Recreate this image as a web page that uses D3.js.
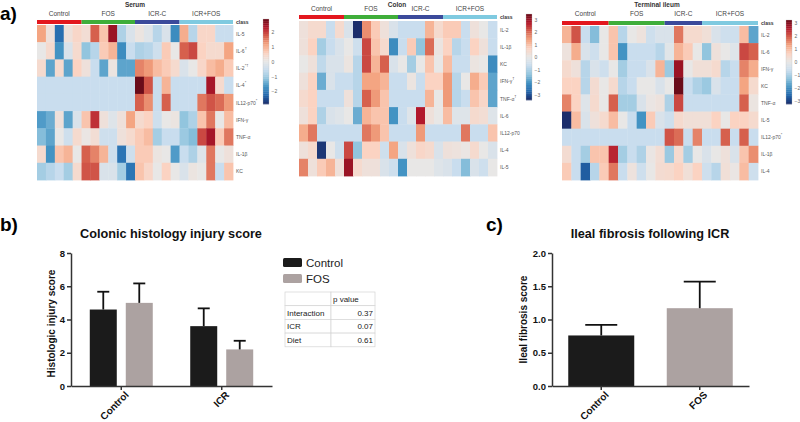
<!DOCTYPE html>
<html><head><meta charset="utf-8">
<script src="https://cdn.jsdelivr.net/npm/d3@7"></script>
<style>body{margin:0;background:#fff} svg{display:block} text{font-family:Arial,"Liberation Sans",sans-serif}</style>
</head><body>
<svg id="chart" width="800" height="422"></svg>
<script>
// ---------------- DATA ----------------
const groups = ["Control", "FOS", "ICR-C", "ICR+FOS"];
const serumGroupSizes = [5, 6, 5, 6];
const colonGroupSizes = [5, 6, 5, 6];
const ileumGroupSizes = [5, 6, 4, 6];

const serumRows  = ["IL-5", "IL-6", "IL-2", "IL-4", "IL12-p70", "IFN-γ", "TNF-α", "IL-1β", "KC"];
const serumMarks = ["", "†", "*†", "*", "*", "", "", "", ""];
const serumValues = [
  [1.2,0.2,-2.3,0.2,0.5, 0.3,1.8,0.8,2.6,-0.9,-0.3, 0.1,-0.2,-0.8,-0.3,-1.9, 1.1,-0.8,0.5,0.5,-0.6,-0.6],
  [0,0.4,-1.8,-0.3,0.4, -1.2,-0.8,0.7,1.0,-1.9,-0.6, -0.9,-0.8,-0.5,0.7,0, 1.8,2.0,0.6,0.4,0.4,1.2],
  [0.4,-1.6,0.4,-1.6,0.6, 0.2,-0.6,-1.6,0.1,-1.6,-1.6, 1.5,1.3,0.9,0.7,0.4, -0.3,0,0.5,0.9,1.1,0.7],
  [-0.6,-0.6,-0.6,-0.6,-0.6, -0.6,-0.6,-0.6,-0.6,-0.6,-0.6, 3.0,1.9,-0.6,1.0,-0.6, -0.6,-0.6,-0.6,2.5,0.4,-0.6],
  [-0.6,-0.6,-0.6,-0.6,-0.6, -0.6,-0.6,-0.6,-0.6,-0.6,-0.6, 1.8,1.4,-0.6,1.8,-0.6, -0.6,-0.6,1.6,1.9,1.7,1.3],
  [-1.7,-1.5,0.2,-1.6,-0.3, 0.8,2.2,0.2,-0.2,0.2,1.2, 0.4,0.6,-0.5,0,0.1, -1.2,-0.9,0.8,1.6,0,0.9],
  [-1.3,-1.6,0,-0.5,0.4, 0.05,0.3,-0.5,-0.5,0.2,0.4, 0.7,0.9,-1.0,-0.6,-0.6, -1.1,-1.3,2.0,2.5,0.7,1.6],
  [0.4,-1.8,0.8,1.0,0, 1.8,1.5,1.0,-0.5,-2.2,-0.5, 0.7,0.7,0.1,0,-1.7, -0.6,-0.9,-0.2,1.6,0,0.2],
  [-1.0,-0.8,-0.6,-1.0,0.4, 1.9,1.9,-0.3,-0.3,-1.0,-2.2, 0.8,0.5,0,0.6,0, -0.3,0.1,0,1.6,-0.6,0.8]
];

const colonRows  = ["IL-2", "IL-1β", "KC", "IFN-γ", "TNF-α", "IL-6", "IL12-p70", "IL-4", "IL-5"];
const colonMarks = ["", "", "", "†", "†", "", "", "", ""];
const colonValues = [
  [0.2,0.4,0.4,-0.6,0.4, -0.3,-3.2,1.4,0.7,0.2,-0.3, -0.6,-0.6,-0.6,1.0,0.4, 0.7,0.7,-0.6,0.2,0,-0.6],
  [0.2,0.6,-1.0,-0.6,-0.3, 0,-0.5,2.0,0.8,0.4,-1.9, -0.6,0.7,-1.2,1.7,0.1, 0.6,-0.8,-0.6,0.6,0.2,-0.6],
  [0,0.2,-0.7,-0.3,-0.3, 0.1,-0.8,2.0,1.0,1.8,-0.3, 0,-1.0,0,0.8,0, 0.9,-0.6,-0.6,0.1,0,-1.9],
  [0.2,0.6,-1.5,-0.3,-0.6, -0.6,-0.8,1.2,1.2,1.0,-0.6, -0.6,0.1,-0.6,0.6,0.6, 1.3,-0.8,0,1.1,0.7,-1.6],
  [0.4,0.6,-0.6,-0.6,-0.6, 0.2,-0.8,1.8,1.3,0.8,-0.6, -0.6,-0.6,-0.6,1.0,0, 1.3,-0.8,-0.6,0.8,0.5,-1.6],
  [0.2,0.6,-0.9,-0.3,-0.2, 0,-1.5,1.0,0.8,0.8,-1.8, -0.6,-0.2,2.4,0.2,0, 0.9,-0.2,-0.2,0.4,0.3,-0.2],
  [1.1,1.6,-0.6,-0.6,-0.6, -0.6,-0.6,1.6,1.3,0.8,-0.6, -0.6,-0.6,1.3,-0.6,-0.6, -0.6,-0.6,1.6,-0.6,-0.6,0.8],
  [0.2,0.4,-2.9,0,-0.5, 2.0,-1.2,0.6,0.6,-0.5,1.2, -0.3,0.2,0.5,0.4,-0.3, 0.2,0.15,0.05,0.4,0,-0.3],
  [1.5,0.2,0.7,1.0,0.2, 2.6,0.4,0.2,0.2,-0.3,-0.5, -1.8,0,0,0,-0.2, -0.3,-0.6,-1.3,-0.3,-0.5,0]
];

const ileumRows  = ["IL-2", "IL-6", "IFN-γ", "KC", "TNF-α", "IL-5", "IL12-p70", "IL-1β", "IL-4"];
const ileumMarks = ["", "", "", "", "", "", "*", "", ""];
const ileumValues = [
  [1.0,1.9,-0.6,-1.3,0, 0.8,-0.8,0,0.15,-0.5,-0.3, -0.3,1.6,0.4,0.4, 0.25,-0.3,-0.5,-0.5,0.9,-1.6],
  [0.15,1.1,-0.3,-0.5,0, 0.8,-1.8,-0.6,-0.6,-0.6,-0.8, -0.15,1.0,0.7,0, -1.2,0.2,0,-0.2,2.0,1.8],
  [0.4,0.2,-0.8,-0.3,-0.5, 0,-1.0,-0.6,-0.6,-0.3,1.0, -1.1,2.6,0,0.25, 0.25,0.4,-0.8,-0.6,1.5,1.1],
  [0.6,0.6,-0.8,0.35,0, 0.4,-0.8,-0.6,0,0,-0.3, 0,3.0,-0.6,-0.9, -1.1,-0.3,-0.6,-0.6,1.2,0.4],
  [1.5,0.6,-0.2,0.4,0, 1.8,-1.0,-1.0,-0.3,0.05,0.15, -0.9,2.0,-0.6,-0.6, -0.6,-0.6,-0.6,-0.6,1.8,0.1],
  [-3.2,0.9,-0.3,0.2,0.4, 0.9,0,-0.6,-1.8,0.7,-0.3, -0.5,0.4,0.25,0.25, 0.25,0.6,0,0.6,0.6,0.4],
  [-0.6,-0.6,-0.6,-0.6,-0.6, -0.6,-0.6,-0.6,-0.6,-0.6,-0.6, 1.9,1.7,-0.6,1.5, -0.6,-0.6,1.8,-0.6,1.8,-0.6],
  [0.35,-0.6,-1.0,0.8,0.8, 2.3,-1.0,-0.6,-0.9,0.05,0.3, -1.1,0.4,-1.0,0, -0.3,0,0.2,-0.3,0.8,1.4],
  [0.7,-0.6,-2.5,-0.8,0.7, 1.6,-0.6,0.15,-0.5,0,0.35, 0.4,0.6,0.25,0.6, -0.5,-0.8,0.25,0.05,0.9,-0.5]
];

const serumScaleTicks = [-2, -1, 0, 1, 2];
const colonScaleTicks = [-3, -2, -1, 0, 1, 2, 3];
const ileumScaleTicks = [-3, -2, -1, 0, 1, 2, 3];

// panel b
const histoGroups = ["Control", "ICR"];
const histoSeries = ["Control", "FOS"];
const histoControlMeans = [4.6, 3.6];
const histoFosMeans = [5.0, 2.2];
const histoControlSem = [1.07, 1.07];
const histoFosSem = [1.17, 0.52];
const histoTicks = [0, 2, 4, 6, 8];
const pLabels = ["Interaction", "ICR", "Diet"];
const pValues = ["0.37", "0.07", "0.61"];

// panel c
const fibrosisCats = ["Control", "FOS"];
const fibrosisMeans = [0.76, 1.17];
const fibrosisSem = [0.16, 0.40];
const fibrosisTicks = [0, 0.5, 1.0, 1.5, 2.0];

// ---------------- STYLE ----------------
const svg = d3.select("#chart");
const groupColors = ["#e3171e", "#3fae3a", "#3b4a9b", "#7fcae0"];
const seriesColors = ["#1b1b1b", "#aca2a1"];
const heatColor = d3.scaleLinear()
  .domain([-3, -2.4, -1.8, -1.2, -0.6, 0, 0.6, 1.2, 1.8, 2.4, 3])
  .range(["#1b2d6b", "#2166ac", "#4393c3", "#92c5de", "#c9ddee", "#e8e7e6",
          "#fbd3c2", "#f4a582", "#d6604d", "#b2182b", "#6a0c1a"])
  .clamp(true);

function drawHeatmap(cfg) {
  const g = svg.append("g");
  const nCols = d3.sum(cfg.sizes);
  const x = d3.scaleBand().domain(d3.range(nCols)).range([cfg.x0, cfg.x1]);
  const y = d3.scaleBand().domain(d3.range(cfg.rows.length)).range([cfg.y0, cfg.y1]);
  const cells = [];
  cfg.values.forEach((row, i) => row.forEach((v, j) => cells.push({i, j, v})));
  g.selectAll("rect.cell").data(cells).join("rect")
    .attr("x", d => x(d.j)).attr("y", d => y(d.i))
    .attr("width", x.bandwidth() + 0.4).attr("height", y.bandwidth() + 0.4)
    .attr("fill", d => heatColor(d.v));
  // class bar
  let start = 0;
  const gs = cfg.sizes.map((s, k) => { const o = {k, s0: start, s1: start + s - 1}; start += s; return o; });
  g.selectAll("rect.cls").data(gs).join("rect")
    .attr("x", d => x(d.s0)).attr("y", cfg.classY)
    .attr("width", d => x(d.s1) + x.bandwidth() - x(d.s0)).attr("height", 4)
    .attr("fill", d => groupColors[d.k]);
  g.selectAll("text.grp").data(gs).join("text")
    .attr("x", d => (x(d.s0) + x(d.s1) + x.bandwidth()) / 2)
    .attr("y", cfg.groupY).attr("text-anchor", "middle")
    .attr("font-size", 6.5).attr("fill", "#444").text(d => groups[d.k]);
  g.append("text").attr("x", cfg.titleX).attr("y", 7).attr("text-anchor", "middle")
    .attr("font-size", 6.5).attr("font-weight", "bold").attr("fill", "#333").text(cfg.title);
  g.append("text").attr("x", cfg.x1 + 3).attr("y", cfg.classY + 4).attr("font-size", 5)
    .attr("font-weight", "bold").attr("fill", "#333").text("class");
  const rl = g.selectAll("text.row").data(cfg.rows).join("text")
    .attr("x", cfg.x1 + 3).attr("y", (d, i) => y(i) + y.bandwidth() / 2 + 2)
    .attr("font-size", 5).attr("fill", "#555");
  rl.append("tspan").text(d => d);
  rl.append("tspan").attr("dy", -3).attr("font-size", 4).text((d, i) => cfg.marks[i]);
  // colorbar
  const cb = cfg.cbar;
  const cy = d3.scaleLinear().domain([cb.min, cb.max]).range([cb.y1, cb.y0]);
  const steps = d3.range(0, 40);
  const hStep = (cb.y1 - cb.y0) / 40;
  g.selectAll("rect.cb").data(steps).join("rect")
    .attr("x", cb.x).attr("y", d => cb.y0 + d * hStep).attr("width", 6).attr("height", hStep + 0.3)
    .attr("fill", d => heatColor(3 - 6 * (d + 0.5) / 40));
  g.append("rect").attr("x", cb.x).attr("y", cb.y0).attr("width", 6).attr("height", cb.y1 - cb.y0)
    .attr("fill", "none").attr("stroke", "#bbb").attr("stroke-width", 0.3);
  const ax = g.append("g").attr("transform", `translate(${cb.x + 6},0)`)
    .call(d3.axisRight(cy).tickValues(cb.ticks).tickFormat(d3.format("d")).tickSize(0).tickPadding(2.5));
  ax.select(".domain").remove();
  ax.selectAll("text").attr("font-size", 5).attr("fill", "#666").attr("font-family", "Arial");
}

drawHeatmap({title: "Serum", titleX: 135, rows: serumRows, marks: serumMarks, values: serumValues,
  sizes: serumGroupSizes, x0: 37, x1: 233, y0: 25, y1: 180, classY: 20, groupY: 16,
  cbar: {x: 263, y0: 19, y1: 104, min: -2.85, max: 2.85, ticks: serumScaleTicks}});
drawHeatmap({title: "Colon", titleX: 397, rows: colonRows, marks: colonMarks, values: colonValues,
  sizes: colonGroupSizes, x0: 299, x1: 497, y0: 21, y1: 176, classY: 15, groupY: 11,
  cbar: {x: 526, y0: 14, y1: 100, min: -3.44, max: 3.44, ticks: colonScaleTicks}});
drawHeatmap({title: "Terminal ileum", titleX: 657, rows: ileumRows, marks: ileumMarks, values: ileumValues,
  sizes: ileumGroupSizes, x0: 562, x1: 758, y0: 26, y1: 180, classY: 21, groupY: 16,
  cbar: {x: 786, y0: 20, y1: 104, min: -3.25, max: 3.25, ticks: ileumScaleTicks}});

// panel labels
svg.append("text").attr("x", 0).attr("y", 20).attr("font-size", 19).attr("font-weight", "bold").text("a)");
svg.append("text").attr("x", 0).attr("y", 231).attr("font-size", 19).attr("font-weight", "bold").text("b)");
svg.append("text").attr("x", 486).attr("y", 231).attr("font-size", 19).attr("font-weight", "bold").text("c)");

function styleAxis(a) {
  a.select(".domain").attr("stroke", "#333").attr("stroke-width", 1.5);
  a.selectAll(".tick line").attr("stroke", "#333").attr("stroke-width", 1.5);
  a.selectAll("text").attr("font-family", "Arial").attr("font-weight", "bold").attr("fill", "#111");
}

// ---------- panel b ----------
(function() {
  const left = 71, right = 272, top = 253, bottom = 386;
  const y = d3.scaleLinear().domain([0, 8]).range([bottom, top]);
  const x0 = d3.scaleBand().domain(histoGroups).range([left, right]).paddingInner(0.373).paddingOuter(0.187);
  const x1 = d3.scaleBand().domain(histoSeries).range([0, x0.bandwidth()]).paddingInner(0.25);
  const g = svg.append("g");
  const data = [];
  histoGroups.forEach((gr, i) => {
    data.push({gr, s: "Control", m: histoControlMeans[i], e: histoControlSem[i], c: 0});
    data.push({gr, s: "FOS", m: histoFosMeans[i], e: histoFosSem[i], c: 1});
  });
  g.selectAll("rect.bar").data(data).join("rect")
    .attr("x", d => x0(d.gr) + x1(d.s)).attr("y", d => y(d.m))
    .attr("width", x1.bandwidth()).attr("height", d => bottom - y(d.m))
    .attr("fill", d => seriesColors[d.c]);
  const eb = g.selectAll("g.err").data(data).join("g");
  eb.append("line").attr("x1", d => x0(d.gr) + x1(d.s) + x1.bandwidth() / 2)
    .attr("x2", d => x0(d.gr) + x1(d.s) + x1.bandwidth() / 2)
    .attr("y1", d => y(d.m)).attr("y2", d => y(d.m + d.e)).attr("stroke", "#111").attr("stroke-width", 1.8);
  eb.append("line").attr("x1", d => x0(d.gr) + x1(d.s) + x1.bandwidth() / 2 - 6)
    .attr("x2", d => x0(d.gr) + x1(d.s) + x1.bandwidth() / 2 + 6)
    .attr("y1", d => y(d.m + d.e)).attr("y2", d => y(d.m + d.e)).attr("stroke", "#111").attr("stroke-width", 1.8);
  const ya = g.append("g").attr("transform", `translate(${left},0)`)
    .call(d3.axisLeft(y).tickValues(histoTicks).tickSize(4).tickPadding(2).tickSizeOuter(0));
  styleAxis(ya); ya.selectAll("text").attr("font-size", 9.5);
  const xa = g.append("g").attr("transform", `translate(0,${bottom})`)
    .call(d3.axisBottom(x0).tickSize(4).tickSizeOuter(0));
  styleAxis(xa);
  xa.selectAll("text").attr("font-size", 10).attr("text-anchor", "end")
    .attr("transform", "rotate(-45)").attr("dx", "-0.1em").attr("dy", "0.55em");
  g.append("text").attr("transform", `translate(55,${(top + bottom) / 2 + 4}) rotate(-90)`)
    .attr("text-anchor", "middle").attr("font-size", 10).attr("font-weight", "bold").attr("fill", "#111")
    .text("Histologic injury score");
  g.append("text").attr("x", 171).attr("y", 238).attr("text-anchor", "middle")
    .attr("font-size", 12.7).attr("font-weight", "bold").attr("fill", "#111").text("Colonic histology injury score");
  // legend
  histoSeries.forEach((s, i) => {
    g.append("rect").attr("x", 283).attr("y", 258 + i * 16).attr("width", 19).attr("height", 9)
      .attr("rx", 1.5).attr("fill", seriesColors[i]);
    g.append("text").attr("x", 306).attr("y", 267 + i * 16).attr("font-size", 11.5).attr("fill", "#222").text(s);
  });
  // p value table
  const tx = 285, tw1 = 46, tw2 = 44, ty = 292, rh = 13.7;
  const rowsT = [["", "p value"]].concat(pLabels.map((l, i) => [l, pValues[i]]));
  rowsT.forEach((r, i) => {
    g.append("rect").attr("x", tx).attr("y", ty + i * rh).attr("width", tw1).attr("height", rh)
      .attr("fill", "#fff").attr("stroke", "#d4d4d4").attr("stroke-width", 0.7);
    g.append("rect").attr("x", tx + tw1).attr("y", ty + i * rh).attr("width", tw2).attr("height", rh)
      .attr("fill", "#fff").attr("stroke", "#d4d4d4").attr("stroke-width", 0.7);
    g.append("text").attr("x", tx + 2).attr("y", ty + i * rh + 10).attr("font-size", 8).attr("fill", "#222").text(r[0]);
    if (i === 0) g.append("text").attr("x", tx + tw1 + 2).attr("y", ty + 10).attr("font-size", 8).attr("fill", "#222").text(r[1]);
    else g.append("text").attr("x", tx + tw1 + tw2 - 2).attr("y", ty + i * rh + 10).attr("text-anchor", "end")
      .attr("font-size", 8).attr("fill", "#222").text(r[1]);
  });
})();

// ---------- panel c ----------
(function() {
  const left = 552, right = 749, top = 253, bottom = 386;
  const y = d3.scaleLinear().domain([0, 2]).range([bottom, top]);
  const x = d3.scaleBand().domain(fibrosisCats).range([left, right]).paddingInner(0.33).paddingOuter(0.165);
  const g = svg.append("g");
  const data = fibrosisCats.map((c, i) => ({c, i, m: fibrosisMeans[i], e: fibrosisSem[i]}));
  g.selectAll("rect.bar").data(data).join("rect")
    .attr("x", d => x(d.c)).attr("y", d => y(d.m)).attr("width", x.bandwidth())
    .attr("height", d => bottom - y(d.m)).attr("fill", d => seriesColors[d.i]);
  const eb = g.selectAll("g.err").data(data).join("g");
  eb.append("line").attr("x1", d => x(d.c) + x.bandwidth() / 2).attr("x2", d => x(d.c) + x.bandwidth() / 2)
    .attr("y1", d => y(d.m)).attr("y2", d => y(d.m + d.e)).attr("stroke", "#111").attr("stroke-width", 1.8);
  eb.append("line").attr("x1", d => x(d.c) + x.bandwidth() / 2 - 16).attr("x2", d => x(d.c) + x.bandwidth() / 2 + 16)
    .attr("y1", d => y(d.m + d.e)).attr("y2", d => y(d.m + d.e)).attr("stroke", "#111").attr("stroke-width", 1.8);
  const ya = g.append("g").attr("transform", `translate(${left},0)`)
    .call(d3.axisLeft(y).tickValues(fibrosisTicks).tickFormat(d3.format(".1f")).tickSize(4).tickPadding(2).tickSizeOuter(0));
  styleAxis(ya); ya.selectAll("text").attr("font-size", 9.5);
  const xa = g.append("g").attr("transform", `translate(0,${bottom})`)
    .call(d3.axisBottom(x).tickSize(4).tickSizeOuter(0));
  styleAxis(xa);
  xa.selectAll("text").attr("font-size", 10).attr("text-anchor", "end")
    .attr("transform", "rotate(-45)").attr("dx", "-0.1em").attr("dy", "0.55em");
  g.append("text").attr("transform", `translate(527,${(top + bottom) / 2}) rotate(-90)`)
    .attr("text-anchor", "middle").attr("font-size", 10).attr("font-weight", "bold").attr("fill", "#111")
    .text("Ileal fibrosis score");
  g.append("text").attr("x", 650).attr("y", 238).attr("text-anchor", "middle")
    .attr("font-size", 12.7).attr("font-weight", "bold").attr("fill", "#111").text("Ileal fibrosis following ICR");
})();
</script>
</body></html>
